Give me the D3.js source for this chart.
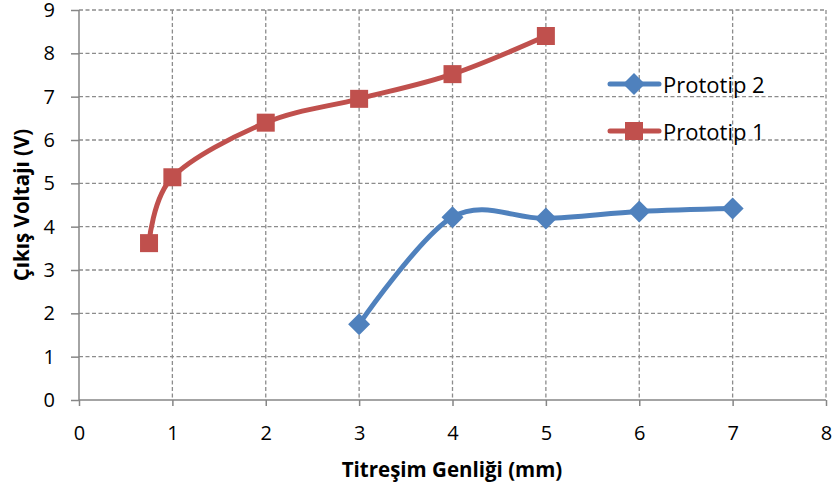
<!DOCTYPE html>
<html>
<head>
<meta charset="utf-8">
<script src="https://cdn.jsdelivr.net/npm/d3@7"></script>
<style>
  html, body { margin: 0; padding: 0; background: #fff; }
  svg { display: block; }
  text { font-family: "Open Sans", Lato, "Liberation Sans", sans-serif; fill: #000; }
</style>
</head>
<body>
<svg id="chart" width="832" height="490"></svg>
<script>
// Series data: amplitude (mm) vs output voltage (V)
const proto1X = [0.75, 1, 2, 3, 4, 5];
const proto1Y = [3.62, 5.14, 6.40, 6.95, 7.52, 8.40];
const proto2X = [3, 4, 5, 6, 7];
const proto2Y = [1.75, 4.22, 4.19, 4.35, 4.42];
const xTicks = [0, 1, 2, 3, 4, 5, 6, 7, 8];
const yTicks = [0, 1, 2, 3, 4, 5, 6, 7, 8, 9];
const seriesNames = ["Prototip 2", "Prototip 1"];
const xTitle = "Titreşim Genliği (mm)";
const yTitle = "Çıkış Voltajı (V)";

const svg = d3.select("#chart");
const plotLeft = 79, plotRight = 826, plotTop = 10, plotBottom = 400;

const x = d3.scaleLinear().domain([0, 8]).range([plotLeft, plotRight]);
const y = d3.scaleLinear().domain([0, 9]).range([plotBottom, plotTop]);

const gridColor = "#8c8c8c";
const axisColor = "#868686";

// Dashed grid lines
const grid = svg.append("g");
grid.selectAll("line.h").data(yTicks.filter(d => d > 0)).join("line")
  .attr("x1", plotLeft).attr("x2", plotRight)
  .attr("y1", d => y(d)).attr("y2", d => y(d))
  .attr("stroke", gridColor).attr("stroke-width", 1.3).attr("stroke-dasharray", "4,2.5");
grid.selectAll("line.v").data(xTicks.filter(d => d > 0)).join("line")
  .attr("y1", plotTop).attr("y2", plotBottom)
  .attr("x1", d => x(d)).attr("x2", d => x(d))
  .attr("stroke", gridColor).attr("stroke-width", 1.3).attr("stroke-dasharray", "4,2.5");

// Axes
const xAxis = d3.axisBottom(x).tickValues(xTicks).tickSize(6).tickPadding(20).tickFormat(d3.format("d"));
const yAxis = d3.axisLeft(y).tickValues(yTicks).tickSize(8).tickPadding(16).tickFormat(d3.format("d"));

const gx = svg.append("g").attr("transform", `translate(0,${plotBottom})`).call(xAxis);
const gy = svg.append("g").attr("transform", `translate(${plotLeft},0)`).call(yAxis);
[gx, gy].forEach(g => {
  g.select(".domain").attr("stroke", axisColor).attr("stroke-width", 1.5);
  g.selectAll(".tick line").attr("stroke", axisColor).attr("stroke-width", 1.5);
  g.selectAll(".tick text").attr("font-size", 20)
    .attr("font-family", "Lato, 'Open Sans', sans-serif").attr("fill", "#000");
});
gx.select(".domain").attr("d", `M${plotLeft},0H${plotRight}`);
gy.select(".domain").attr("d", `M0,${plotBottom}V${plotTop}`);

// Axis titles
svg.append("text")
  .attr("x", 452).attr("y", 477)
  .attr("text-anchor", "middle").attr("font-size", 20.5).attr("font-weight", "bold")
  .text(xTitle);
svg.append("text")
  .attr("transform", `translate(29,205) rotate(-90)`)
  .attr("text-anchor", "middle").attr("font-size", 20.5).attr("font-weight", "bold")
  .text(yTitle);

const line = d3.line()
  .x(d => x(d[0])).y(d => y(d[1]))
  .curve(d3.curveCardinal.tension(0));

const red = "#C0504D", blue = "#4F81BD";
const p1 = proto1X.map((v, i) => [v, proto1Y[i]]);
const p2 = proto2X.map((v, i) => [v, proto2Y[i]]);

const sq = 18, dia = 11;
const diamondPath = (cx, cy) => `M${cx},${cy - dia}L${cx + dia},${cy}L${cx},${cy + dia}L${cx - dia},${cy}Z`;

// Prototip 2
svg.append("path").datum(p2).attr("d", line)
  .attr("fill", "none").attr("stroke", blue).attr("stroke-width", 5).attr("stroke-linecap", "round");
svg.append("g").selectAll("path").data(p2).join("path")
  .attr("d", d => diamondPath(x(d[0]), y(d[1]))).attr("fill", blue);

// Prototip 1
svg.append("path").datum(p1).attr("d", line)
  .attr("fill", "none").attr("stroke", red).attr("stroke-width", 5).attr("stroke-linecap", "round");
svg.append("g").selectAll("rect").data(p1).join("rect")
  .attr("x", d => x(d[0]) - sq / 2).attr("y", d => y(d[1]) - sq / 2)
  .attr("width", sq).attr("height", sq).attr("fill", red);

// Legend
const legend = svg.append("g");
const legendItems = [
  { name: seriesNames[0], color: blue, marker: "diamond", ly: 84 },
  { name: seriesNames[1], color: red, marker: "square", ly: 131 }
];
legendItems.forEach(it => {
  legend.append("line").attr("x1", 610).attr("x2", 659).attr("y1", it.ly).attr("y2", it.ly)
    .attr("stroke", it.color).attr("stroke-width", 5).attr("stroke-linecap", "round");
  if (it.marker === "diamond") {
    legend.append("path").attr("d", diamondPath(634, it.ly)).attr("fill", it.color);
  } else {
    legend.append("rect").attr("x", 634 - sq / 2).attr("y", it.ly - sq / 2)
      .attr("width", sq).attr("height", sq).attr("fill", it.color);
  }
  legend.append("text").attr("x", 663).attr("y", it.ly + 9)
    .attr("font-size", 22).text(it.name);
});
</script>
</body>
</html>
